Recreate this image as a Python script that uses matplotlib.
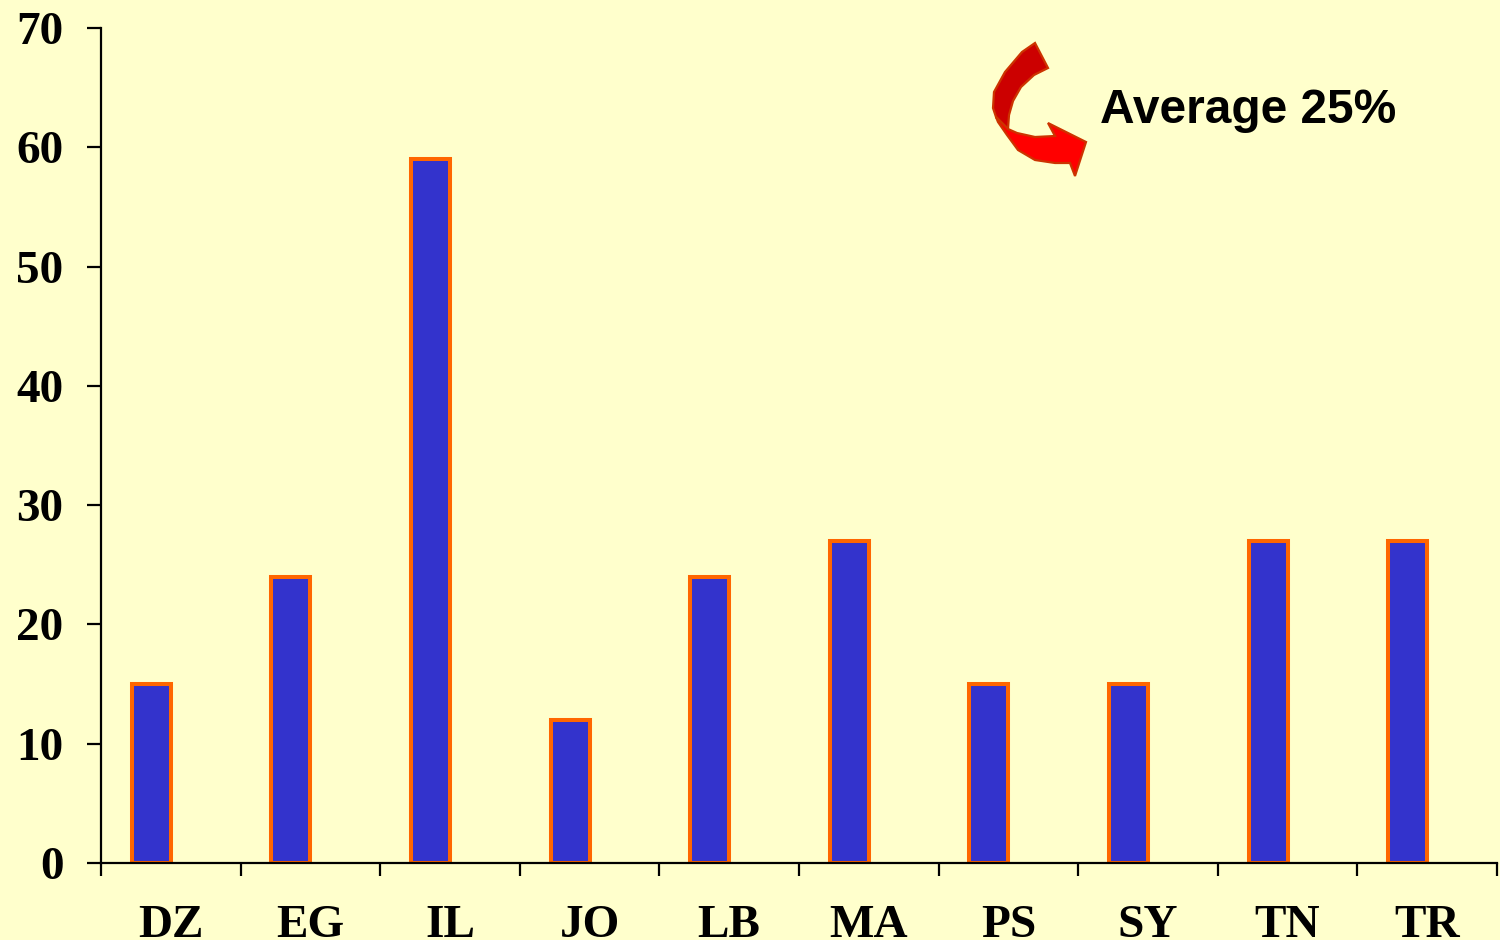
import numpy as np
import matplotlib
matplotlib.use("Agg")
import matplotlib.pyplot as plt
from matplotlib.patches import Polygon

# Share of unemployed youth, by country
countries = ["DZ", "EG", "IL", "JO", "LB", "MA", "PS", "SY", "TN", "TR"]
values = [15, 24, 59, 12, 24, 27, 15, 15, 27, 27]
y_ticks = [0, 10, 20, 30, 40, 50, 60, 70]
note_text = "Average 25%"

BG = "#FFFFCC"
BAR_FILL = "#3333CC"
BAR_EDGE = "#FF6600"

W, H = 1500, 940
fig = plt.figure(figsize=(W / 100, H / 100), dpi=100, facecolor=BG)
ax = fig.add_axes([101 / W, 1 - 863 / H, (1497 - 101) / W, (863 - 28) / H])
ax.set_facecolor(BG)

n = len(countries)
x = np.arange(n) + 0.36
ax.bar(x, values, width=0.28, color=BAR_FILL, edgecolor=BAR_EDGE,
       linewidth=2.9, zorder=3)

ax.set_xlim(0, n)
ax.set_ylim(0, 70)

for side in ("top", "right"):
    ax.spines[side].set_visible(False)
for side in ("left", "bottom"):
    ax.spines[side].set_linewidth(1.6)
    ax.spines[side].set_color("black")
    ax.spines[side].set_zorder(4)

serif = dict(family="Liberation Serif", weight="bold", size=34)

ax.set_yticks(y_ticks)
ax.set_yticklabels([str(v) for v in y_ticks], **serif)
ax.tick_params(axis="y", direction="out", length=10, width=1.6, pad=17)

# category boundaries carry the ticks; names sit between them
ax.set_xticks(np.arange(n + 1))
ax.set_xticklabels([])
ax.tick_params(axis="x", which="major", direction="out", length=9, width=1.6)
ax.set_xticks(np.arange(n) + 0.5, minor=True)
ax.set_xticklabels(countries, minor=True, **serif)
ax.tick_params(axis="x", which="minor", length=0, pad=30)

# overlay in figure pixel coordinates for the callout
ov = fig.add_axes([0, 0, 1, 1], facecolor="none")
ov.set_xlim(0, W)
ov.set_ylim(H, 0)
ov.axis("off")

# curved ribbon arrow: darker back face on top, bright front face below
back_face = [
    (1035, 43), (1022, 52), (1005, 72), (994, 92), (993, 108), (996, 117),
    (1008, 129), (1009, 115), (1013, 101), (1021, 87), (1034, 75), (1048, 68),
]
front_face = [
    (996, 117), (998, 122), (1007, 135), (1018, 150), (1035, 160),
    (1055, 163), (1070, 163), (1075, 176), (1086, 142), (1048, 123),
    (1055, 136), (1035, 137), (1017, 133), (1008, 129),
]
ov.add_patch(Polygon(back_face, closed=True, facecolor="#CC0000",
                     edgecolor="#CC3300", linewidth=1.6, joinstyle="miter",
                     zorder=5))
ov.add_patch(Polygon(front_face, closed=True, facecolor="#FF0000",
                     edgecolor="#CC3300", linewidth=1.6, joinstyle="miter",
                     zorder=6))

ov.text(1100, 123, note_text, family="Liberation Sans", weight="bold",
        size=34.5, color="black", ha="left", va="baseline")

fig.savefig("out.png", dpi=100, facecolor=BG)
